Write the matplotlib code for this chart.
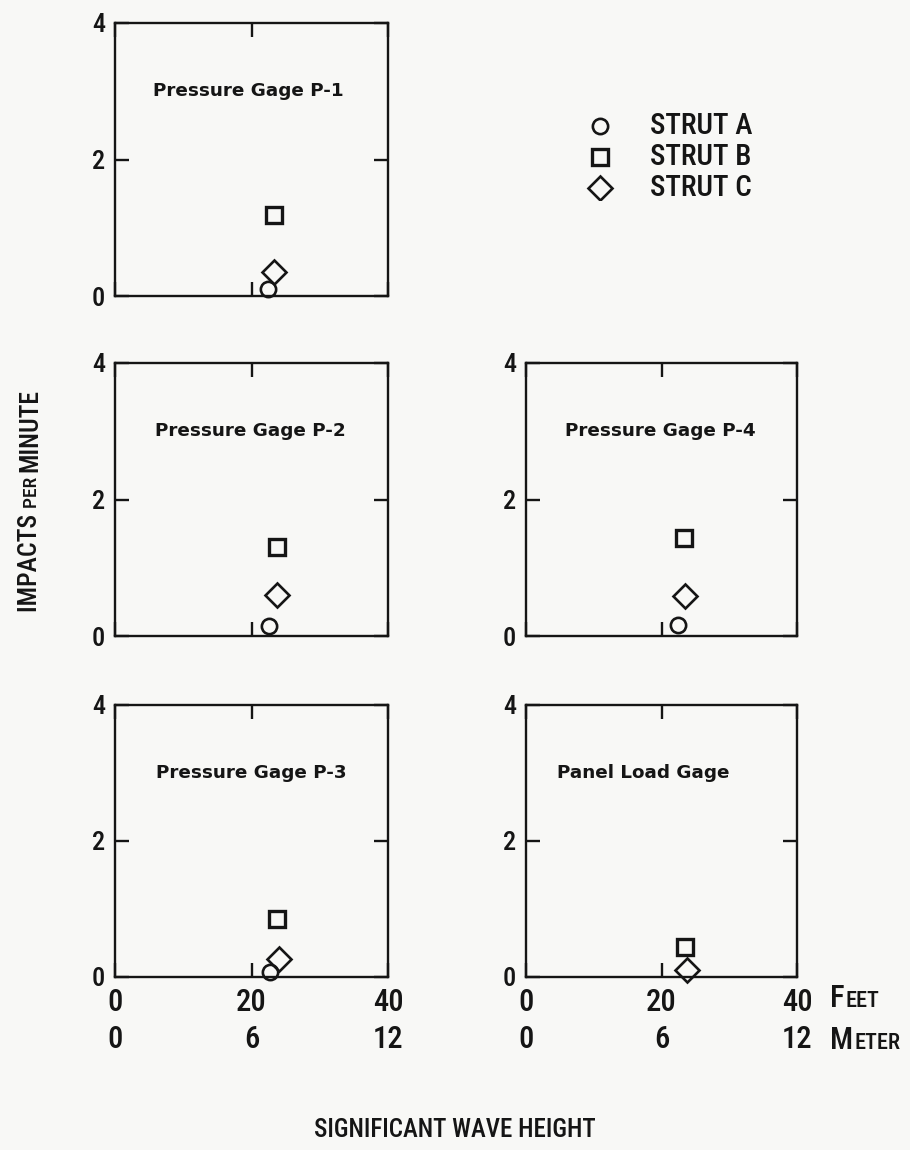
import matplotlib
matplotlib.use('Agg')
import matplotlib.pyplot as plt
from matplotlib import font_manager

# narrow lettering if one is installed, else DejaVu
installed = {f.name for f in font_manager.fontManager.ttflist}
wanted = ['Liberation Sans Narrow', 'Roboto Condensed', 'DejaVu Sans Condensed', 'Roboto']
fams = [f for f in wanted if f in installed] + ['DejaVu Sans']
plt.rcParams['font.family'] = fams[:1] + ['DejaVu Sans']
plt.rcParams['font.weight'] = 'medium'

# Impacts per minute vs significant wave height (ft), one panel per gage
panel_names = ["Pressure Gage P-1", "Pressure Gage P-2", "Pressure Gage P-4",
               "Pressure Gage P-3", "Panel Load Gage"]

strut_a_height = [22.4, 22.5, 22.4, 22.7, None]
strut_a_rate = [0.10, 0.15, 0.16, 0.07, None]

strut_b_height = [23.3, 23.7, 23.3, 23.7, 23.5]
strut_b_rate = [1.19, 1.30, 1.43, 0.85, 0.44]

strut_c_height = [23.3, 23.7, 23.4, 24.0, 23.7]
strut_c_rate = [0.35, 0.60, 0.59, 0.26, 0.10]

feet_ticks = [0, 20, 40]
meter_ticks = [0, 6, 12]
rate_ticks = [0, 2, 4]

INK = '#151515'
BG = '#f8f8f6'

fig = plt.figure(figsize=(9.1, 11.5), dpi=100, facecolor=BG)

W, H = 910, 1150
def box(x0, x1, y0, y1):
    return [x0 / W, 1 - y1 / H, (x1 - x0) / W, (y1 - y0) / H]

rects = [box(115, 388, 23, 296), box(115, 388, 363, 636), box(526, 797, 363, 636),
         box(115, 388, 705, 977), box(526, 797, 705, 977)]
title_x = [5.6, 5.8, 5.7, 6.0, 4.6]
bottom_row = [False, False, False, True, True]

MS_O, MS_S, MS_D = 11, 11, 12

for i, rect in enumerate(rects):
    ax = fig.add_axes(rect, facecolor='none')
    ax.set_xlim(0, 40)
    ax.set_ylim(0, 4)
    for s in ax.spines.values():
        s.set_linewidth(1.7)
        s.set_color(INK)
    ax.set_xticks(feet_ticks)
    ax.set_yticks(rate_ticks)
    ax.set_yticklabels([str(v) for v in rate_ticks])
    ax.tick_params(direction='in', length=10, width=1.7, color=INK, labelcolor=INK,
                   top=True, right=True, bottom=True, left=True)
    ax.tick_params(axis='y', pad=7, labelsize=19)
    if bottom_row[i]:
        ax.set_xticklabels([str(v) for v in feet_ticks])
        ax.tick_params(axis='x', pad=8, labelsize=22)
        sec = ax.secondary_xaxis(-0.175, functions=(lambda f: f * 0.3, lambda m: m / 0.3))
        sec.set_xticks(meter_ticks)
        sec.set_xticklabels([str(v) for v in meter_ticks])
        sec.spines['bottom'].set_visible(False)
        sec.tick_params(length=0, labelsize=22, colors=INK, pad=0)
    else:
        ax.set_xticklabels([])

    if strut_a_height[i] is not None:
        ax.plot(strut_a_height[i], strut_a_rate[i], 'o', ms=MS_O, mfc='none',
                mec=INK, mew=1.9, clip_on=False)
    ax.plot(strut_b_height[i], strut_b_rate[i], 's', ms=MS_S, mfc='none',
            mec=INK, mew=2.4, clip_on=False)
    ax.plot(strut_c_height[i], strut_c_rate[i], 'D', ms=MS_D, mfc='none',
            mec=INK, mew=1.9, clip_on=False)

    ax.text(title_x[i], 3.0, panel_names[i], fontsize=13.2, fontweight='bold',
            family='DejaVu Sans', color=INK, ha='left', va='center')

# legend in the empty upper-right slot
leg = fig.add_axes(box(580, 800, 110, 200), facecolor='none')
leg.set_xlim(0, 220)
leg.set_ylim(90, 0)
leg.axis('off')
leg_marks = [('o', MS_O, 1.9), ('s', MS_S, 2.4), ('D', MS_D, 1.9)]
leg_labels = ["STRUT A", "STRUT B", "STRUT C"]
for k, ((m, ms, mw), lab) in enumerate(zip(leg_marks, leg_labels)):
    yy = 16 + k * 31
    leg.plot(20, yy, m, ms=ms, mfc='none', mec=INK, mew=mw)
    leg.text(70, yy, lab, fontsize=21, color=INK, ha='left', va='center')

# FEET / METER in small caps
for y, big, small in [(1007, "F", "EET"), (1049, "M", "ETER")]:
    t = fig.text(830 / W, 1 - y / H, big, fontsize=22, color=INK, ha='left', va='baseline')
    fig.canvas.draw()
    bb = t.get_window_extent()
    fig.text((bb.x1 + 1) / W, 1 - y / H, small, fontsize=16, color=INK,
             ha='left', va='baseline')

# y label, "PER" in small caps
x_base = 37
ycur = 612
for txt, size in [("IMPACTS ", 18.5), ("PER ", 14), ("MINUTE", 18.5)]:
    t = fig.text(x_base / W, 1 - ycur / H, txt, fontsize=size, color=INK,
                 rotation=90, ha='left', va='baseline', rotation_mode='anchor')
    fig.canvas.draw()
    bb = t.get_window_extent()
    ycur -= bb.height

fig.text(455 / W, 1 - 1130 / H, "SIGNIFICANT WAVE HEIGHT", fontsize=18, color=INK,
         ha='center', va='center')

fig.savefig("out.png", dpi=100, facecolor=BG)
